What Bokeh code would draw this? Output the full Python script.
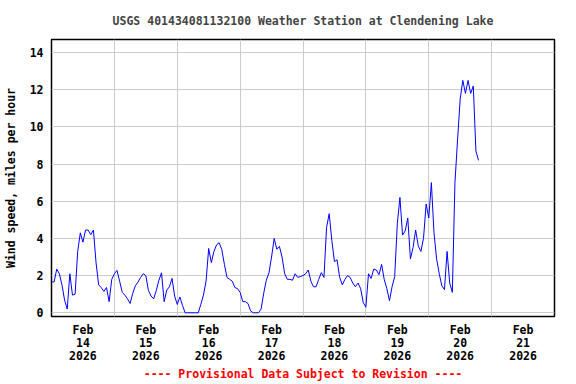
from bokeh.plotting import figure
from bokeh.models import FixedTicker, Range1d
from bokeh.embed import file_html
from bokeh.resources import INLINE

# Hourly wind speed (mph) starting Feb 14 2026 00:00
wind_mph = [
    1.66, 1.66, 2.35, 2.1, 1.5, 0.68, 0.2, 2.1, 0.95, 1.0,
    3.3, 4.3, 3.8, 4.45, 4.45, 4.2, 4.45, 2.7, 1.5, 1.35,
    1.15, 1.36, 0.6, 1.8, 2.1, 2.28, 1.7, 1.1, 0.95, 0.75,
    0.5, 1.04, 1.45, 1.65, 1.9, 2.1, 2.0, 1.2, 0.9, 0.75,
    1.2, 1.75, 2.15, 0.6, 1.22, 1.4, 1.85, 0.9, 0.45, 0.85,
    0.4, 0.0, 0.0, 0.0, 0.0, 0.0, 0.0, 0.45, 0.95, 1.7,
    3.46, 2.7, 3.3, 3.65, 3.77, 3.4, 2.6, 1.9, 1.8, 1.7,
    1.36, 1.3, 1.1, 0.6, 0.6, 0.5, 0.1, 0.0, 0.0, 0.0,
    0.2, 1.05, 1.75, 2.15, 3.0, 4.0, 3.42, 3.57, 3.0, 2.1,
    1.8, 1.8, 1.75, 2.1, 1.9, 1.95, 2.0, 2.1, 2.3, 1.7,
    1.4, 1.4, 1.8, 2.16, 1.9, 4.6, 5.33, 3.9, 2.75, 2.85,
    1.9, 1.5, 1.8, 2.0, 1.9, 1.6, 1.4, 1.6, 1.3, 0.55,
    0.3, 2.1, 1.85, 2.35, 2.3, 2.05, 2.6, 1.8, 1.3, 0.65,
    1.4, 1.95, 4.8, 6.2, 4.18, 4.4, 5.1, 2.9, 3.5, 4.45,
    3.6, 3.3, 4.0, 5.85, 5.1, 7.0, 4.3, 2.9, 2.1, 1.45,
    1.25, 3.3, 1.6, 1.1, 7.0, 9.3, 11.5, 12.5, 11.8, 12.5,
    11.8, 12.2, 8.7, 8.2,
]
hours = list(range(len(wind_mph)))

day_labels = ["Feb\n14\n2026", "Feb\n15\n2026", "Feb\n16\n2026", "Feb\n17\n2026",
              "Feb\n18\n2026", "Feb\n19\n2026", "Feb\n20\n2026", "Feb\n21\n2026"]
y_ticks = [0, 2, 4, 6, 8, 10, 12, 14]

title_text = "USGS 401434081132100 Weather Station at Clendening Lake"
y_label = "Wind speed, miles per hour"
footer = "---- Provisional Data Subject to Revision ----"

FONT = "DejaVu Sans Mono"
FS = "11.5px"

p = figure(frame_width=503, frame_height=277, output_backend="svg", toolbar_location=None,
           x_range=Range1d(0, 24 * len(day_labels)), y_range=Range1d(-0.2, 14.7),
           min_border_left=45, min_border_right=14, min_border_top=0, min_border_bottom=0)

p.title.text = title_text
p.title.align = "center"
p.title.text_font = FONT
p.title.text_font_size = FS
p.title.text_font_style = "bold"
p.title.standoff = 23

p.line(hours, wind_mph, line_color="#0000ff", line_width=1)

p.xaxis.ticker = FixedTicker(ticks=[12 + 24 * i for i in range(len(day_labels))])
p.xaxis.major_label_overrides = {12 + 24 * i: lab for i, lab in enumerate(day_labels)}
p.xgrid.ticker = FixedTicker(ticks=[24 * i for i in range(len(day_labels) + 1)])
p.yaxis.ticker = FixedTicker(ticks=y_ticks)
p.ygrid.ticker = FixedTicker(ticks=y_ticks)

for ax in (p.xaxis, p.yaxis):
    ax.axis_line_color = None
    ax.major_tick_line_color = None
    ax.minor_tick_line_color = None
    ax.major_tick_out = 0
    ax.major_tick_in = 0
    ax.major_label_text_font = FONT
    ax.major_label_text_font_size = FS
    ax.major_label_text_font_style = "bold"
    ax.major_label_text_color = "black"
    ax.axis_label_text_font = FONT
    ax.axis_label_text_font_size = FS
    ax.axis_label_text_font_style = "bold"

p.xaxis.major_label_standoff = 6
p.xaxis.major_label_text_line_height = 0.95
p.xaxis.axis_label = footer
p.xaxis.axis_label_text_color = "red"
p.xaxis.axis_label_standoff = 1

p.yaxis.major_label_standoff = 8
p.yaxis.axis_label = y_label
p.yaxis.axis_label_standoff = 9
p.yaxis.axis_label_text_color = "black"

p.xgrid.grid_line_color = "#cccccc"
p.ygrid.grid_line_color = "#cccccc"
p.outline_line_color = "black"
p.outline_line_width = 1.5
p.background_fill_color = "white"
p.border_fill_color = "white"

open("out.html", "w").write(file_html(p, INLINE))
